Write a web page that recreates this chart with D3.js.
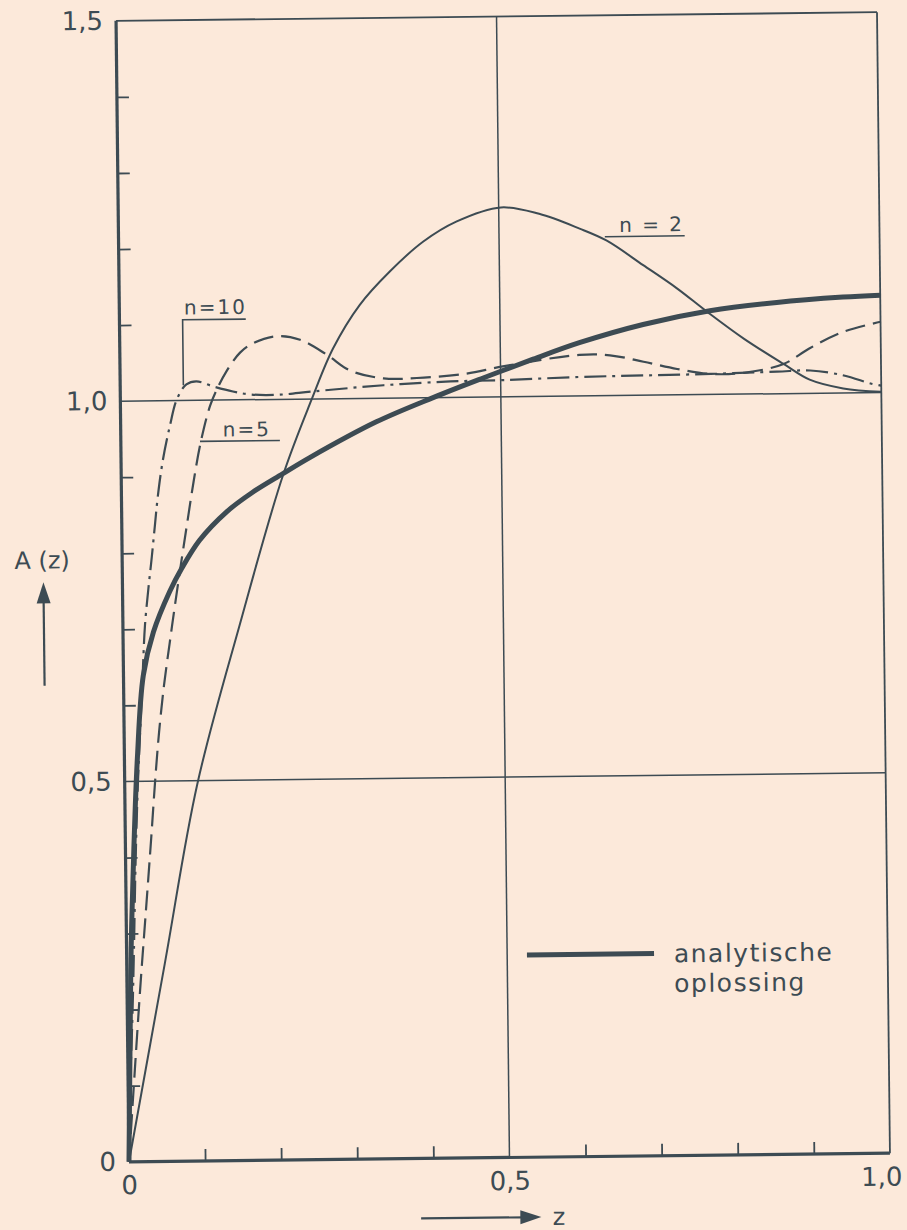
<!DOCTYPE html>
<html>
<head>
<meta charset="utf-8">
<script src="https://d3js.org/d3.v7.min.js"></script>
<style>
  body { margin: 0; background: #fce9da; }
  svg { display: block; }
  text { font-family: "DejaVu Sans", sans-serif; }
</style>
</head>
<body>
<svg id="chart" width="907" height="1230"></svg>
<script>
// values, [z, A(z)]
var analytic = [[0,0],[0.003,0.148],[0.006,0.28],[0.011,0.41],[0.017,0.53],[0.026,0.639],[0.04,0.696],
  [0.062,0.749],[0.078,0.779],[0.102,0.816],[0.138,0.853],[0.172,0.878],[0.212,0.902],[0.248,0.923],
  [0.336,0.969],[0.411,1.0],[0.477,1.025],[0.543,1.049],[0.604,1.07],[0.688,1.093],[0.776,1.11],
  [0.864,1.12],[0.951,1.126],[1.0,1.128]];

var n2 = [[0,0],[0.05,0.26],[0.0955,0.496],[0.154,0.706],[0.2127,0.9005],[0.2511,0.9987],
  [0.2802,1.066],[0.3158,1.1228],[0.3556,1.1661],[0.4,1.205],[0.444,1.231],[0.503,1.249],[0.553,1.24],
  [0.606,1.22],[0.641,1.204],[0.689,1.171],[0.733,1.14],[0.772,1.109],[0.82,1.073],[0.872,1.039],
  [0.906,1.018],[0.95,1.006],[1.0,1.001]];

var n5 = [[0,0],[0.009,0.12],[0.018,0.236],[0.026,0.33],[0.034,0.425],[0.04,0.5],[0.046,0.565],
  [0.053,0.625],[0.061,0.68],[0.069,0.733],[0.078,0.79],[0.087,0.845],[0.095,0.893],[0.105,0.945],
  [0.118,0.993],[0.13,1.02],[0.14,1.038],[0.158,1.062],[0.175,1.074],[0.206,1.083],
  [0.237,1.078],[0.272,1.058],[0.302,1.037],[0.346,1.026],[0.39,1.026],[0.455,1.031],[0.503,1.04],
  [0.604,1.054],[0.644,1.053],[0.688,1.044],[0.732,1.034],[0.776,1.027],[0.82,1.028],[0.872,1.039],
  [0.906,1.059],[0.95,1.08],[1.0,1.093]];

var n10 = [[0,0],[0.003,0.105],[0.0067,0.192],[0.0097,0.28],[0.013,0.39],[0.017,0.49],[0.021,0.565],
  [0.024,0.615],[0.026,0.655],[0.029,0.705],[0.034,0.753],[0.039,0.795],[0.0435,0.836],[0.048,0.876],
  [0.055,0.922],[0.065,0.968],[0.074,1.001],[0.087,1.021],[0.1,1.025],[0.122,1.018],[0.148,1.011],
  [0.17,1.007],[0.206,1.006],[0.254,1.01],[0.346,1.017],[0.434,1.021],[0.504,1.022],[0.605,1.025],
  [0.688,1.026],[0.776,1.027],[0.863,1.029],[0.907,1.03],[0.951,1.023],[0.986,1.012],[1.0,1.009]];

var xLabels = [0, 0.5, 1.0];
var yLabels = [0, 0.5, 1.0, 1.5];
var xMinor = [0.1, 0.2, 0.3, 0.4, 0.6, 0.7, 0.8, 0.9];
var yMinor = [0.1, 0.2, 0.3, 0.4, 0.6, 0.7, 0.8, 0.9, 1.1, 1.2, 1.3, 1.4];
var grid = {x: [0.5], y: [0.5, 1.0]};

var ink = "#3d4b53";
var w = 761, h = 1141;

var x = d3.scaleLinear().domain([0, 1]).range([0, w]);
var y = d3.scaleLinear().domain([0, 1.5]).range([h, 0]);

var comma = d3.formatLocale({decimal: ",", thousands: ".", grouping: [3], currency: ["", ""]}).format(".1f");
function fmt(d) { return d === 0 ? "0" : comma(d); }

// the scan is turned a little, so the whole sheet is too
var svg = d3.select("#chart");
var g = svg.append("g")
    .attr("transform", "translate(503,587) rotate(-0.65) translate(" + (-w / 2) + "," + (-h / 2) + ")")
    .attr("color", ink);

// grid lines
g.selectAll(".gy").data(grid.y).enter().append("line")
    .attr("x1", 0).attr("x2", w)
    .attr("y1", function(d) { return y(d); }).attr("y2", function(d) { return y(d); })
    .attr("stroke", ink).attr("stroke-width", 1.5);
g.selectAll(".gx").data(grid.x).enter().append("line")
    .attr("x1", function(d) { return x(d); }).attr("x2", function(d) { return x(d); })
    .attr("y1", 0).attr("y2", h)
    .attr("stroke", ink).attr("stroke-width", 1.5);

// inward minor ticks
var yMinorAxis = g.append("g")
    .call(d3.axisLeft(y).tickValues(yMinor).tickSizeInner(-12).tickSizeOuter(0).tickFormat(""));
var xMinorAxis = g.append("g")
    .attr("transform", "translate(0," + h + ")")
    .call(d3.axisBottom(x).tickValues(xMinor).tickSizeInner(-12).tickSizeOuter(0).tickFormat(""));
[yMinorAxis, xMinorAxis].forEach(function(a) {
  a.select(".domain").remove();
  a.selectAll("line").attr("stroke-width", 1.8);
});

// labels
var yLab = g.append("g")
    .call(d3.axisLeft(y).tickValues(yLabels).tickSize(0).tickPadding(13).tickFormat(fmt));
var xLab = g.append("g")
    .attr("transform", "translate(0," + h + ")")
    .call(d3.axisBottom(x).tickValues(xLabels).tickSize(0).tickPadding(14).tickFormat(fmt));
[yLab, xLab].forEach(function(a) {
  a.select(".domain").remove();
  a.selectAll("text").attr("font-size", 26).attr("font-family", "DejaVu Sans, sans-serif");
});
xLab.selectAll("text").filter(function(d) { return d === 1; }).attr("dx", -9);

// frame: left and bottom heavier than top and right
g.append("line").attr("x1", 0).attr("y1", 0).attr("x2", 0).attr("y2", h)
    .attr("stroke", ink).attr("stroke-width", 3.2);
g.append("line").attr("x1", 0).attr("y1", h).attr("x2", w).attr("y2", h)
    .attr("stroke", ink).attr("stroke-width", 3.2);
g.append("line").attr("x1", 0).attr("y1", 0).attr("x2", w).attr("y2", 0)
    .attr("stroke", ink).attr("stroke-width", 1.8);
g.append("line").attr("x1", w).attr("y1", 0).attr("x2", w).attr("y2", h)
    .attr("stroke", ink).attr("stroke-width", 1.8);

var line = d3.line()
    .x(function(d) { return x(d[0]); })
    .y(function(d) { return y(d[1]); })
    .curve(d3.curveCatmullRom.alpha(0.5));

var series = [
  {data: n2, width: 2, dash: null},
  {data: n5, width: 2.2, dash: "20,8"},
  {data: n10, width: 2.2, dash: "22,6,3,6"},
  {data: analytic, width: 5, dash: null}
];

g.selectAll(".curve").data(series).enter().append("path")
    .attr("class", "curve")
    .attr("d", function(d) { return line(d.data); })
    .attr("fill", "none")
    .attr("stroke", ink)
    .attr("stroke-width", function(d) { return d.width; })
    .attr("stroke-dasharray", function(d) { return d.dash; })
    .attr("stroke-linecap", "butt");

// curve labels with their underlines / leaders
var notes = [
  {text: "n=10", tx: 0.085, ty: 1.113, path: [[0.083, 1.02], [0.083, 1.106], [0.166, 1.106]]},
  {text: "n=5", tx: 0.134, ty: 0.952, path: [[0.104, 0.946], [0.209, 0.946]]},
  {text: "n = 2", tx: 0.658, ty: 1.215, path: [[0.639, 1.209], [0.744, 1.209]]}
];
var straight = d3.line()
    .x(function(d) { return x(d[0]); })
    .y(function(d) { return y(d[1]); });

g.selectAll(".leader").data(notes).enter().append("path")
    .attr("d", function(d) { return straight(d.path); })
    .attr("fill", "none").attr("stroke", ink).attr("stroke-width", 1.6);
g.selectAll(".note").data(notes).enter().append("text")
    .attr("x", function(d) { return x(d.tx); })
    .attr("y", function(d) { return y(d.ty); })
    .attr("font-size", 20)
    .attr("letter-spacing", 2)
    .attr("fill", ink)
    .text(function(d) { return d.text; });

// legend
g.append("line")
    .attr("x1", x(0.526)).attr("x2", x(0.693))
    .attr("y1", y(0.266)).attr("y2", y(0.266))
    .attr("stroke", ink).attr("stroke-width", 5);
g.append("text").attr("x", x(0.719)).attr("y", y(0.254))
    .attr("font-size", 25).attr("letter-spacing", 1.5).attr("fill", ink).text("analytische");
g.append("text").attr("x", x(0.719)).attr("y", y(0.215))
    .attr("font-size", 25).attr("letter-spacing", 1.5).attr("fill", ink).text("oplossing");

// axis titles with arrows
g.append("text").attr("x", -80).attr("y", y(0.781))
    .attr("text-anchor", "middle").attr("font-size", 24).attr("fill", ink).text("A (z)");
g.append("line").attr("x1", -79).attr("x2", -79)
    .attr("y1", y(0.627)).attr("y2", y(0.74))
    .attr("stroke", ink).attr("stroke-width", 2.2);
g.append("path")
    .attr("d", "M" + (-79) + "," + y(0.763) + "L" + (-86) + "," + (y(0.763) + 21) + "L" + (-72) + "," + (y(0.763) + 21) + "Z")
    .attr("fill", ink);

g.append("line").attr("x1", x(0.383)).attr("x2", x(0.52))
    .attr("y1", h + 60).attr("y2", h + 60)
    .attr("stroke", ink).attr("stroke-width", 2.2);
g.append("path")
    .attr("d", "M" + x(0.541) + "," + (h + 60) + "L" + (x(0.541) - 21) + "," + (h + 53) + "L" + (x(0.541) - 21) + "," + (h + 67) + "Z")
    .attr("fill", ink);
g.append("text").attr("x", x(0.556)).attr("y", h + 68)
    .attr("font-size", 24).attr("fill", ink).text("z");
</script>
</body>
</html>
